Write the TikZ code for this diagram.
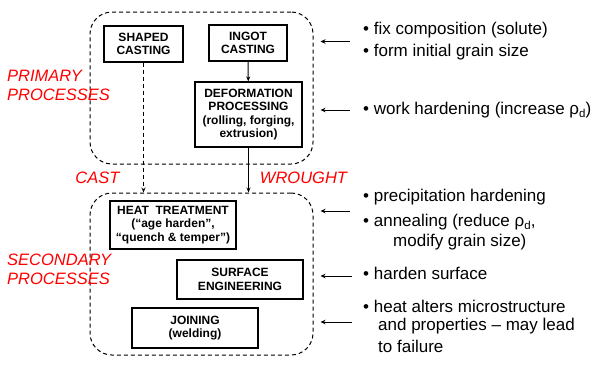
\documentclass[tikz,border=0pt]{standalone}
\usepackage{fontspec}
\setmainfont{Liberation Sans}
\usetikzlibrary{arrows.meta}
\tikzset{
  procbox/.style={draw=black, line width=1.2pt, align=center, inner sep=0pt,
    font=\fontsize{12}{13.5}\selectfont\bfseries},
  regionbox/.style={draw=black, line width=1pt, dash pattern=on 4pt off 3pt, rounded corners=22pt, inner sep=0pt},
  redlab/.style={text=red, font=\fontsize{16.5}{19}\selectfont\itshape, align=left, inner sep=0pt},
  note/.style={font=\fontsize{17}{20}\selectfont, inner sep=0pt, anchor=west},
  flow/.style={line width=1pt, -{Stealth[length=5pt,width=4pt]}},
  pointer/.style={line width=1pt, shorten >=7pt, -{Stealth[length=5pt,width=4.5pt]}},
}
\newcommand{\rhod}{ρ\raisebox{-0.35ex}{\fontsize{11.5}{11.5}\selectfont d}}
\begin{document}
\begin{tikzpicture}[x=1pt,y=-1pt]
\useasboundingbox (0,0) rectangle (593,365);
% regions
\node[regionbox, minimum width=223pt, minimum height=152pt] (prim) at (201.5,88) {};
\node[regionbox, minimum width=223pt, minimum height=162pt] (sec) at (201.5,274) {};
% boxes
\node[procbox, minimum width=79pt, minimum height=36pt] (shaped) at (143.5,44) {SHAPED\\CASTING};
\node[procbox, minimum width=78pt, minimum height=36pt] (ingot) at (248,43) {INGOT\\CASTING};
\node[procbox, minimum width=107pt, minimum height=65pt] (deform) at (248.5,114.5) {DEFORMATION\\PROCESSING\\(rolling, forging,\\extrusion)};
\node[procbox, minimum width=126pt, minimum height=48pt] (heat) at (173,225) {HEAT\ \ TREATMENT\\(“age harden”,\\“quench \& temper”)};
\node[procbox, minimum width=126pt, minimum height=39pt] (surf) at (240,279.5) {SURFACE\\ENGINEERING};
\node[procbox, minimum width=126pt, minimum height=40pt] (join) at (195,328) {JOINING\\(welding)};
% flows
\draw[flow] (ingot) -- (deform);
\draw[flow, dash pattern=on 4pt off 3pt] (shaped) -- (shaped |- sec.north);
\draw[flow] (deform) -- (deform |- sec.north);
% red labels
\node[redlab, anchor=north west] (plab) at (7,70) {PRIMARY\\PROCESSES};
\node[redlab, anchor=north west] (slab) at (7,254) {SECONDARY\\PROCESSES};
\node[redlab] (cast) at (97.5,178) {CAST};
\node[redlab] (wrought) at (303.5,178) {WROUGHT};
% notes
\node[note] (n1) at (363,30) {• fix composition (solute)};
\node[note] (n2) at (363,52) {• form initial grain size};
\node[note] (n3) at (363,110) {• work hardening (increase \rhod)};
\node[note] (n4) at (363,197) {• precipitation hardening};
\node[note] (n5) at (363,222) {• annealing (reduce \rhod,};
\node[note] (n5b) at (393,242) {modify grain size)};
\node[note] (n6) at (363,273) {• harden surface};
\node[note] (n7) at (363,306) {• heat alters microstructure};
\node[note] (n7b) at (378,326) {and properties – may lead};
\node[note] (n7c) at (378,346) {to failure};
% pointers
\coordinate (a1) at (350,41.5);
\coordinate (a2) at (350,110);
\coordinate (a3) at (350,211);
\coordinate (a4) at (352,276);
\coordinate (a5) at (352,322);
\foreach \a in {a1,a2,a3,a4,a5} {
  \draw[pointer] (\a) -- (\a -| prim.east);
}
\end{tikzpicture}
\end{document}
